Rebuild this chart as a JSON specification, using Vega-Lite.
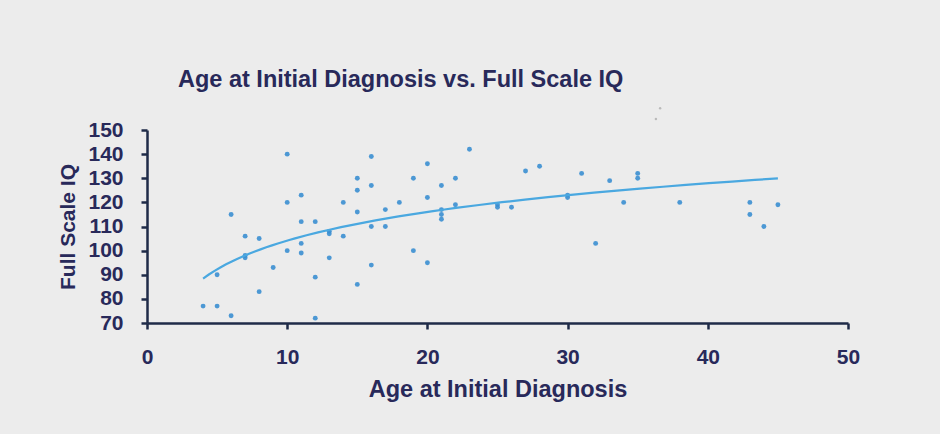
{
  "$schema": "https://vega.github.io/schema/vega-lite/v6.json",
  "autosize": {"type": "none"},
  "width": 701,
  "height": 193,
  "padding": {"left": 147, "top": 130, "right": 92, "bottom": 111},
  "background": "#ececec",
  "title": {
    "text": "Age at Initial Diagnosis vs. Full Scale IQ",
    "anchor": "start",
    "frame": "group",
    "dx": 31,
    "dy": 45,
    "baseline": "alphabetic",
    "offset": 42,
    "font": "Liberation Sans",
    "fontSize": 23.5,
    "fontWeight": "bold",
    "color": "#28295a"
  },
  "datasets": {
    "pts": [
      {"age": 4, "iq": 77}, {"age": 5, "iq": 77}, {"age": 5, "iq": 90}, {"age": 6, "iq": 73},
      {"age": 6, "iq": 115}, {"age": 7, "iq": 106}, {"age": 7, "iq": 98}, {"age": 7, "iq": 97},
      {"age": 8, "iq": 105}, {"age": 8, "iq": 83}, {"age": 9, "iq": 93}, {"age": 10, "iq": 140},
      {"age": 10, "iq": 120}, {"age": 10, "iq": 100}, {"age": 11, "iq": 123}, {"age": 11, "iq": 112},
      {"age": 11, "iq": 103}, {"age": 11, "iq": 99}, {"age": 12, "iq": 112}, {"age": 12, "iq": 89},
      {"age": 12, "iq": 72}, {"age": 13, "iq": 108}, {"age": 13, "iq": 107}, {"age": 13, "iq": 97},
      {"age": 14, "iq": 120}, {"age": 14, "iq": 106}, {"age": 15, "iq": 130}, {"age": 15, "iq": 125},
      {"age": 15, "iq": 116}, {"age": 15, "iq": 86}, {"age": 16, "iq": 139}, {"age": 16, "iq": 127},
      {"age": 16, "iq": 110}, {"age": 16, "iq": 94}, {"age": 17, "iq": 117}, {"age": 17, "iq": 110},
      {"age": 18, "iq": 120}, {"age": 19, "iq": 130}, {"age": 19, "iq": 100}, {"age": 20, "iq": 136},
      {"age": 20, "iq": 122}, {"age": 20, "iq": 95}, {"age": 21, "iq": 127}, {"age": 21, "iq": 117},
      {"age": 21, "iq": 115}, {"age": 21, "iq": 113}, {"age": 22, "iq": 130}, {"age": 22, "iq": 119},
      {"age": 23, "iq": 142}, {"age": 25, "iq": 119}, {"age": 25, "iq": 118}, {"age": 26, "iq": 118},
      {"age": 27, "iq": 133}, {"age": 28, "iq": 135}, {"age": 30, "iq": 122}, {"age": 30, "iq": 123},
      {"age": 31, "iq": 132}, {"age": 32, "iq": 103}, {"age": 33, "iq": 129}, {"age": 34, "iq": 120},
      {"age": 35, "iq": 132}, {"age": 35, "iq": 130}, {"age": 38, "iq": 120}, {"age": 43, "iq": 120},
      {"age": 43, "iq": 115}, {"age": 44, "iq": 110}, {"age": 45, "iq": 119}
    ],
    "faint": [
      {"age": 36.3, "iq": 154.6}, {"age": 36.6, "iq": 159}
    ]
  },
  "layer": [
    {
      "data": {"name": "faint"},
      "mark": {"type": "circle", "size": 6, "color": "#9a9a9a", "opacity": 0.6, "clip": false},
      "encoding": {
        "x": {"field": "age", "type": "quantitative"},
        "y": {"field": "iq", "type": "quantitative"}
      }
    },
    {
      "data": {"name": "pts"},
      "mark": {"type": "circle", "size": 24, "color": "#3b8fd2", "opacity": 0.9},
      "encoding": {
        "x": {"field": "age", "type": "quantitative"},
        "y": {"field": "iq", "type": "quantitative"}
      }
    },
    {
      "data": {"name": "pts"},
      "transform": [
        {"regression": "iq", "on": "age", "method": "log", "extent": [4, 45]}
      ],
      "mark": {"type": "line", "color": "#4aa8e0", "strokeWidth": 2.2},
      "encoding": {
        "x": {"field": "age", "type": "quantitative"},
        "y": {"field": "iq", "type": "quantitative"}
      }
    }
  ],
  "resolve": {"scale": {"x": "shared", "y": "shared"}},
  "encoding": {
    "x": {
      "field": "age",
      "type": "quantitative",
      "scale": {"domain": [0, 50], "nice": false, "zero": false},
      "axis": {
        "title": "Age at Initial Diagnosis",
        "values": [0, 10, 20, 30, 40, 50],
        "grid": false
      }
    },
    "y": {
      "field": "iq",
      "type": "quantitative",
      "scale": {"domain": [70, 150], "nice": false, "zero": false},
      "axis": {
        "title": "Full Scale IQ",
        "values": [70, 80, 90, 100, 110, 120, 130, 140, 150],
        "grid": false
      }
    }
  },
  "config": {
    "view": {"stroke": null},
    "axis": {
      "domainColor": "#1f2b48",
      "domainWidth": 2.5,
      "tickColor": "#1f2b48",
      "tickWidth": 2.5,
      "tickSize": 6,
      "labelFont": "Liberation Sans",
      "labelFontSize": 21,
      "labelFontWeight": "bold",
      "labelColor": "#28295a",
      "titleFont": "Liberation Sans",
      "titleFontWeight": "bold",
      "titleColor": "#28295a"
    },
    "axisX": {
      "labelPadding": 17,
      "titleFontSize": 23.5,
      "titlePadding": 10,
      "labelFlush": false
    },
    "axisY": {
      "labelPadding": 18,
      "titleFontSize": 21,
      "titlePadding": 9,
      "labelFlush": false
    }
  }
}
